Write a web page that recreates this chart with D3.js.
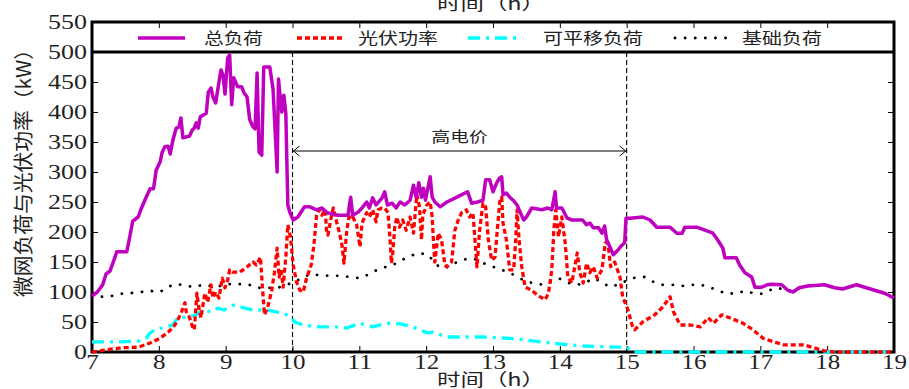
<!DOCTYPE html>
<html>
<head>
<meta charset="utf-8">
<script src="https://cdn.jsdelivr.net/npm/d3@7"></script>
<style>
  html, body { margin: 0; padding: 0; background: #fff; }
  svg { display: block; }
</style>
</head>
<body>
<svg id="chart" width="909" height="389"></svg>
<script>
// ---------------- data (hour, kW) ----------------
const xTicks = [7, 8, 9, 10, 11, 12, 13, 14, 15, 16, 17, 18, 19];
const yTicks = [0, 50, 100, 150, 200, 250, 300, 350, 400, 450, 500, 550];
const seriesNames = ["总负荷", "光伏功率", "可平移负荷", "基础负荷"];
const peakLabel = "高电价";
const peakStart = 10, peakEnd = 15, peakArrowValue = 335;
const legendDivider = 500;

const totalLoad = [[7.00,93],[7.08,100],[7.16,112],[7.21,130],[7.27,135],[7.34,157],[7.37,167],[7.52,167],[7.57,195],[7.61,218],[7.69,225],[7.73,237],[7.81,258],[7.87,272],[7.92,272],[7.96,303],[8.02,317],[8.05,333],[8.09,342],[8.14,343],[8.17,330],[8.21,353],[8.26,373],[8.30,375],[8.33,390],[8.36,357],[8.46,360],[8.50,370],[8.53,373],[8.56,382],[8.59,373],[8.62,392],[8.71,398],[8.74,433],[8.78,440],[8.81,425],[8.85,415],[8.91,457],[8.93,470],[8.96,462],[8.99,430],[9.03,490],[9.06,495],[9.09,412],[9.12,457],[9.18,442],[9.24,442],[9.27,433],[9.32,425],[9.36,387],[9.41,375],[9.44,372],[9.47,465],[9.50,333],[9.54,328],[9.57,475],[9.66,475],[9.71,437],[9.77,300],[9.79,455],[9.81,432],[9.84,400],[9.87,428],[9.90,398],[9.93,245],[9.96,233],[10.01,220],[10.08,225],[10.18,242],[10.26,242],[10.36,237],[10.44,240],[10.52,232],[10.68,228],[10.83,228],[10.87,258],[10.90,228],[10.98,233],[11.04,240],[11.11,250],[11.15,240],[11.20,257],[11.25,245],[11.34,257],[11.38,267],[11.42,245],[11.49,248],[11.55,240],[11.61,250],[11.68,245],[11.76,253],[11.81,278],[11.85,258],[11.89,282],[11.93,258],[11.96,273],[11.99,253],[12.02,270],[12.06,292],[12.09,258],[12.13,250],[12.21,242],[12.31,250],[12.46,258],[12.62,267],[12.68,248],[12.77,250],[12.85,253],[12.89,287],[12.95,287],[13.00,267],[13.06,283],[13.10,290],[13.13,292],[13.15,262],[13.20,265],[13.25,258],[13.30,253],[13.36,245],[13.41,232],[13.46,220],[13.50,225],[13.58,240],[13.73,237],[13.82,240],[13.88,237],[13.93,267],[13.95,240],[14.03,240],[14.11,223],[14.18,220],[14.34,220],[14.40,212],[14.45,215],[14.50,207],[14.58,207],[14.63,198],[14.67,210],[14.70,187],[14.75,175],[14.80,162],[14.87,170],[14.93,178],[14.97,182],[14.99,223],[15.05,223],[15.24,225],[15.35,220],[15.45,208],[15.65,208],[15.75,198],[15.83,198],[15.87,208],[16.05,208],[16.17,203],[16.29,198],[16.36,187],[16.44,173],[16.47,157],[16.64,157],[16.69,145],[16.77,132],[16.87,125],[16.92,108],[17.02,108],[17.10,112],[17.17,113],[17.32,112],[17.41,103],[17.49,100],[17.58,107],[17.71,110],[17.96,112],[18.11,107],[18.23,105],[18.44,112],[18.56,108],[18.71,103],[18.86,98],[19.00,90]];

const pvPower = [[7.00,0],[7.19,3],[7.43,7],[7.69,8],[7.87,15],[8.02,23],[8.14,33],[8.24,45],[8.30,57],[8.34,67],[8.39,82],[8.41,67],[8.46,57],[8.51,40],[8.53,37],[8.55,67],[8.57,98],[8.60,73],[8.63,57],[8.66,78],[8.69,98],[8.73,83],[8.78,112],[8.81,90],[8.85,100],[8.90,90],[8.95,123],[8.99,107],[9.03,120],[9.06,137],[9.10,133],[9.21,133],[9.30,140],[9.41,150],[9.46,145],[9.52,158],[9.55,108],[9.58,62],[9.63,75],[9.69,103],[9.73,133],[9.77,173],[9.80,125],[9.83,137],[9.86,108],[9.90,158],[9.93,212],[9.97,192],[10.01,145],[10.06,117],[10.11,103],[10.16,100],[10.21,123],[10.28,145],[10.32,178],[10.36,228],[10.40,237],[10.44,228],[10.49,237],[10.51,200],[10.53,195],[10.58,225],[10.61,240],[10.66,217],[10.70,200],[10.74,178],[10.77,148],[10.81,200],[10.84,223],[10.89,228],[10.96,212],[11.01,175],[11.04,215],[11.11,232],[11.15,225],[11.20,237],[11.25,217],[11.28,237],[11.34,240],[11.38,240],[11.43,232],[11.46,187],[11.48,148],[11.50,165],[11.53,208],[11.56,225],[11.60,208],[11.65,220],[11.70,203],[11.76,225],[11.81,198],[11.86,262],[11.90,242],[11.93,187],[11.95,228],[12.01,245],[12.06,250],[12.09,225],[12.11,182],[12.13,150],[12.18,198],[12.23,187],[12.28,145],[12.31,142],[12.38,150],[12.43,203],[12.48,220],[12.53,232],[12.60,237],[12.65,225],[12.70,232],[12.73,187],[12.76,142],[12.80,203],[12.85,248],[12.89,242],[12.93,187],[12.98,153],[13.03,158],[13.10,250],[13.13,258],[13.15,215],[13.20,187],[13.25,137],[13.31,137],[13.34,187],[13.36,237],[13.39,187],[13.43,142],[13.48,108],[13.58,103],[13.66,95],[13.78,87],[13.83,98],[13.88,137],[13.91,203],[13.94,237],[13.98,192],[14.03,225],[14.08,182],[14.12,125],[14.18,115],[14.26,165],[14.30,132],[14.35,115],[14.40,148],[14.45,132],[14.50,142],[14.56,123],[14.63,137],[14.68,182],[14.72,182],[14.76,142],[14.82,150],[14.90,125],[14.94,92],[15.02,70],[15.08,45],[15.12,37],[15.24,50],[15.42,62],[15.54,75],[15.65,92],[15.70,67],[15.80,45],[15.95,45],[16.10,42],[16.22,57],[16.30,48],[16.42,62],[16.54,57],[16.74,48],[16.89,37],[17.04,23],[17.20,17],[17.35,12],[17.65,12],[17.80,7],[17.96,2],[18.10,0],[19.00,0]];

const shiftableLoad = [[7.00,17],[7.40,17],[7.69,18],[7.81,23],[7.87,32],[7.94,37],[8.11,42],[8.21,45],[8.28,57],[8.41,58],[8.56,62],[8.66,70],[8.78,67],[8.88,73],[8.98,70],[9.02,73],[9.11,78],[9.21,75],[9.41,70],[9.62,70],[9.76,67],[9.91,62],[9.99,57],[10.03,50],[10.16,45],[10.41,42],[10.61,42],[10.81,40],[11.01,48],[11.20,42],[11.41,48],[11.61,47],[11.80,42],[12.01,32],[12.10,33],[12.31,25],[12.50,25],[12.85,25],[13.35,22],[13.85,15],[14.35,10],[14.85,8],[15.00,8],[15.08,0],[19.00,0]];

const baseLoad = [[7.00,95],[7.13,92],[7.28,93],[7.43,97],[7.57,98],[7.72,100],[7.87,102],[8.02,100],[8.11,107],[8.23,113],[8.37,112],[8.51,108],[8.66,112],[8.78,110],[8.92,110],[9.03,113],[9.18,113],[9.33,113],[9.48,107],[9.63,107],[9.78,107],[9.91,112],[10.04,117],[10.16,125],[10.28,130],[10.41,128],[10.56,127],[10.71,127],[10.86,125],[11.00,123],[11.11,128],[11.23,135],[11.34,140],[11.41,142],[11.50,145],[11.63,153],[11.76,160],[11.89,165],[12.03,162],[12.12,150],[12.21,140],[12.34,142],[12.46,150],[12.60,155],[12.73,155],[12.86,148],[13.00,142],[13.13,137],[13.25,132],[13.37,125],[13.50,117],[13.61,115],[13.75,112],[13.87,117],[14.00,122],[14.14,115],[14.27,112],[14.40,117],[14.52,123],[14.64,115],[14.76,108],[14.88,113],[15.02,120],[15.15,125],[15.27,125],[15.40,117],[15.54,112],[15.69,112],[15.83,110],[15.97,112],[16.11,112],[16.24,108],[16.38,102],[16.50,97],[16.65,98],[16.78,102],[16.89,98],[17.02,97],[17.14,103],[17.26,107],[17.41,102],[17.49,100],[17.58,107],[17.71,110],[17.96,112],[18.11,107],[18.23,105],[18.44,112],[18.56,108],[18.71,103],[18.86,98],[19.00,90]];

// ---------------- layout ----------------
const svg = d3.select("#chart");
const L = 92, R = 894, T = 22, B = 352;
const x = d3.scaleLinear().domain([7, 19]).range([L, R]);
const y = d3.scaleLinear().domain([0, 550]).range([B, T]);

const serif = "'Liberation Serif', 'DejaVu Serif', serif";
const cjk = "'Noto Sans CJK SC', sans-serif";

svg.append("rect").attr("width", 909).attr("height", 389).attr("fill", "#fff");

// axes (inward ticks)
function styleAxis(g, digitW) {
  g.select(".domain").remove();
  g.selectAll(".tick line").attr("stroke", "#000").attr("stroke-width", 1);
  g.selectAll(".tick text")
    .style("font-family", serif).style("font-size", "20px").attr("fill", "#222")
    .attr("textLength", d => String(d).length * digitW)
    .attr("lengthAdjust", "spacingAndGlyphs");
}
svg.append("g").attr("transform", `translate(${L},0)`)
  .call(d3.axisLeft(y).tickValues(yTicks).tickSize(-6).tickPadding(5))
  .call(g => styleAxis(g, 13));
svg.append("g").attr("transform", `translate(0,${B})`)
  .call(d3.axisBottom(x).tickValues(xTicks).tickSize(-6).tickPadding(3))
  .call(g => styleAxis(g, 12.5));
svg.append("g").attr("transform", `translate(0,${T})`)
  .call(d3.axisTop(x).tickValues(xTicks).tickSize(-6).tickFormat(""))
  .call(g => styleAxis(g, 12.5));
svg.append("g").attr("transform", `translate(${R},0)`)
  .call(d3.axisRight(y).tickValues(yTicks).tickSize(-6).tickFormat(""))
  .call(g => styleAxis(g, 12.5));

// frame
const frame = svg.append("g").attr("stroke", "#000").attr("stroke-width", 3).attr("fill", "none");
frame.append("rect").attr("x", L).attr("y", T).attr("width", R - L).attr("height", B - T);
frame.append("line").attr("x1", L).attr("x2", R).attr("y1", y(legendDivider)).attr("y2", y(legendDivider));

// peak-price markers
[peakStart, peakEnd].forEach(h => {
  svg.append("line")
    .attr("x1", x(h)).attr("x2", x(h)).attr("y1", y(legendDivider)).attr("y2", y(0))
    .attr("stroke", "#000").attr("stroke-width", 1.1).attr("stroke-dasharray", "5,3");
});
const ay = y(peakArrowValue);
svg.append("line").attr("x1", x(peakStart)).attr("x2", x(peakEnd)).attr("y1", ay).attr("y2", ay)
  .attr("stroke", "#000").attr("stroke-width", 1);
svg.append("path")
  .attr("d", `M${x(peakStart) + 7},${ay - 5} L${x(peakStart) + 1},${ay} L${x(peakStart) + 7},${ay + 5}` +
             `M${x(peakEnd) - 7},${ay - 5} L${x(peakEnd) - 1},${ay} L${x(peakEnd) - 7},${ay + 5}`)
  .attr("fill", "none").attr("stroke", "#000").attr("stroke-width", 1);
svg.append("text").attr("x", (x(peakStart) + x(peakEnd)) / 2).attr("y", ay - 9)
  .attr("text-anchor", "middle").style("font-family", cjk).style("font-size", "15px").attr("fill", "#222")
  .attr("textLength", 56).attr("lengthAdjust", "spacingAndGlyphs").text(peakLabel);

// series
const line = d3.line().x(d => x(d[0])).y(d => y(d[1]));
const styles = [
  { data: totalLoad, color: "#BF00BF", width: 3.5, dash: null },
  { data: pvPower, color: "#FF0000", width: 3.3, dash: "5,3" },
  { data: shiftableLoad, color: "#00FFFF", width: 3.3, dash: "12,6,3,6" },
  { data: baseLoad, color: "#000000", width: 2.8, dash: "0.1,10" }
];
// draw base & shiftable first, then PV, then total on top
[3, 2, 1, 0].forEach(i => {
  const s = styles[i];
  svg.append("path").datum(s.data).attr("d", line)
    .attr("fill", "none").attr("stroke", s.color).attr("stroke-width", s.width)
    .attr("stroke-linejoin", "round")
    .attr("stroke-linecap", i === 3 ? "round" : "butt")
    .attr("stroke-dasharray", s.dash);
});

// legend
const legendPos = [
  { x1: 138, x2: 185, tx: 204, tw: 59 },
  { x1: 297, x2: 342, tx: 358, tw: 80 },
  { x1: 468, x2: 522, tx: 543, tw: 100 },
  { x1: 675, x2: 728, tx: 742, tw: 80 }
];
const ly = (y(legendDivider) + T) / 2 + 1;
seriesNames.forEach((name, i) => {
  const s = styles[i], p = legendPos[i];
  svg.append("line").attr("x1", p.x1).attr("x2", p.x2).attr("y1", ly).attr("y2", ly)
    .attr("stroke", s.color).attr("stroke-width", s.width)
    .attr("stroke-linecap", i === 3 ? "round" : "butt")
    .attr("stroke-dasharray", s.dash);
  svg.append("text").attr("x", p.tx).attr("y", ly).attr("dy", "0.36em")
    .style("font-family", cjk).style("font-size", "15.5px").attr("fill", "#222")
    .attr("textLength", p.tw).attr("lengthAdjust", "spacingAndGlyphs").text(name);
});

// axis titles
svg.append("text").attr("x", (L + R) / 2 - 2).attr("y", 386).attr("text-anchor", "middle")
  .style("font-family", cjk).style("font-size", "17px").attr("fill", "#222")
  .attr("textLength", 108).attr("lengthAdjust", "spacingAndGlyphs").text("时间（h）");
svg.append("text").attr("x", (L + R) / 2 - 2).attr("y", 10).attr("text-anchor", "middle")
  .style("font-family", cjk).style("font-size", "17px").attr("fill", "#222")
  .attr("textLength", 108).attr("lengthAdjust", "spacingAndGlyphs").text("时间（h）");
svg.append("text").attr("transform", "translate(31,168) rotate(-90)").attr("text-anchor", "middle")
  .style("font-family", cjk).style("font-size", "20px").attr("fill", "#222")
  .attr("textLength", 258).attr("lengthAdjust", "spacingAndGlyphs").text("微网负荷与光伏功率（kW）");
</script>
</body>
</html>
